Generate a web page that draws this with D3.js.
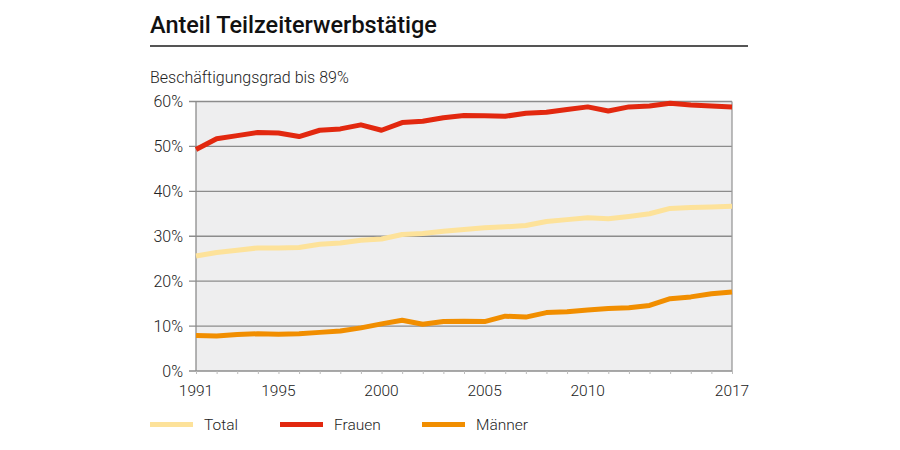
<!DOCTYPE html>
<html><head><meta charset="utf-8">
<script src="https://cdn.jsdelivr.net/npm/d3@7"></script>
<style>
body{margin:0;background:#fff;}
svg{display:block;font-family:Roboto,"Noto Sans",sans-serif;}
</style></head>
<body><svg id="c" width="900" height="450"></svg>
<script>
const years = d3.range(1991, 2018);
const total  = [25.6,26.4,26.9,27.4,27.4,27.5,28.2,28.5,29.1,29.4,30.4,30.6,31.1,31.5,31.9,32.1,32.4,33.3,33.7,34.1,33.9,34.4,35.0,36.2,36.4,36.5,36.7];
const frauen = [49.3,51.7,52.4,53.1,53.0,52.2,53.6,53.9,54.8,53.6,55.3,55.6,56.4,56.9,56.8,56.7,57.4,57.6,58.2,58.8,57.9,58.8,59.0,59.6,59.2,59.0,58.8];
const maenner= [7.9,7.8,8.1,8.3,8.2,8.3,8.6,8.9,9.6,10.5,11.3,10.4,11.0,11.1,11.0,12.2,12.0,13.0,13.2,13.6,13.9,14.1,14.6,16.1,16.5,17.2,17.6];
const yTicks = [0,10,20,30,40,50,60];
const xTickLabels = [1991,1995,2000,2005,2010,2017];
const seriesNames = ["Total","Frauen","Männer"];
const seriesColors = ["#fde29a","#e2280f","#f18e00"];

const svg = d3.select("#c");
const L=196, R=732, T=101.5, B=371;
const x = d3.scaleLinear().domain([1991,2017]).range([L,R]);
const y = d3.scaleLinear().domain([0,60]).range([B,T]);

// title
svg.append("text").attr("x",150).attr("y",32.5).attr("font-size",23.5).attr("font-weight",500)
  .attr("fill","#111").text("Anteil Teilzeiterwerbstätige");
svg.append("line").attr("x1",150).attr("x2",748).attr("y1",46).attr("y2",46)
  .attr("stroke","#555").attr("stroke-width",2);
svg.append("text").attr("x",150).attr("y",83).attr("font-size",16).attr("font-weight",300)
  .attr("fill","#222").text("Beschäftigungsgrad bis 89%");

// plot bg
svg.append("rect").attr("x",L).attr("y",T).attr("width",R-L).attr("height",B-T).attr("fill","#eeeeef");

// grid
svg.append("g").selectAll("line").data(yTicks).join("line")
  .attr("x1",L-7).attr("x2",R).attr("y1",d=>y(d)).attr("y2",d=>y(d))
  .attr("stroke","#8c8c8c").attr("stroke-width",1.3);
svg.append("line").attr("x1",L).attr("x2",L).attr("y1",T).attr("y2",B).attr("stroke","#8c8c8c").attr("stroke-width",1.3);
svg.append("line").attr("x1",R).attr("x2",R).attr("y1",T).attr("y2",B).attr("stroke","#999").attr("stroke-width",1.3);

// y labels
svg.append("g").selectAll("text").data(yTicks).join("text")
  .attr("x",183).attr("y",d=>y(d)+5.5).attr("text-anchor","end").attr("font-size",16).attr("font-weight",300)
  .attr("fill","#222").text(d=>d+"%");

// x axis
const xAxis = d3.axisBottom(x).tickValues(years).tickSize(3).tickFormat("");
const gx = svg.append("g").attr("transform",`translate(0,${B})`).call(xAxis);
gx.select(".domain").remove();
gx.selectAll("line").attr("stroke","#bbb");
svg.append("g").selectAll("text").data(xTickLabels).join("text")
  .attr("x",d=>x(d)).attr("y",B+25).attr("text-anchor","middle").attr("font-size",15.5).attr("font-weight",300)
  .attr("fill","#222").text(d=>d);

// lines
const line = d3.line().x((d,i)=>x(years[i])).y(d=>y(d));
[total,frauen,maenner].forEach((s,i)=>{
  svg.append("path").datum(s).attr("d",line).attr("fill","none")
    .attr("stroke",seriesColors[i]).attr("stroke-width",5).attr("stroke-linejoin","round");
});

// legend
const lx=[150,280,422];
seriesNames.forEach((n,i)=>{
  svg.append("line").attr("x1",lx[i]).attr("x2",lx[i]+43).attr("y1",424.5).attr("y2",424.5)
    .attr("stroke",seriesColors[i]).attr("stroke-width",5);
  svg.append("text").attr("x",lx[i]+54).attr("y",430).attr("font-size",15.5).attr("font-weight",300)
    .attr("fill","#222").text(n);
});
</script></body></html>
